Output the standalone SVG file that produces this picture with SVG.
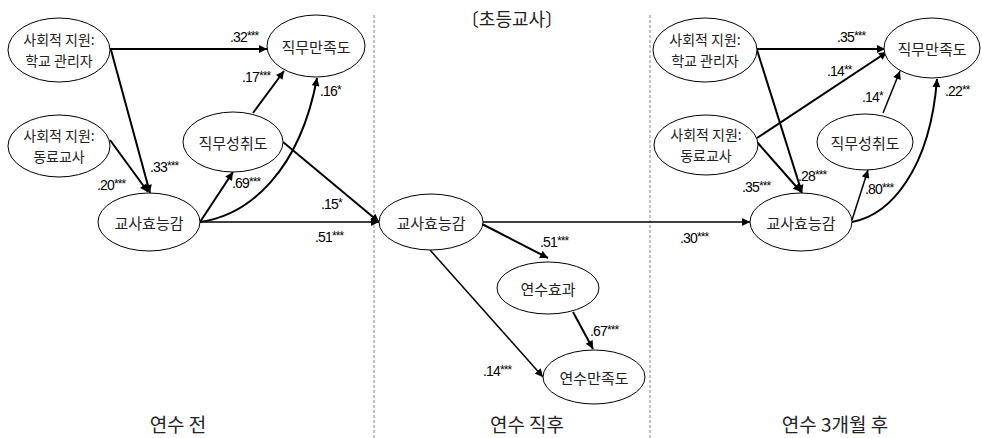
<svg xmlns="http://www.w3.org/2000/svg" width="982" height="438" viewBox="0 0 982 438">
<style>
.node ellipse{fill:#fff;stroke:#000;stroke-width:1}
.nt{font-family:"Noto Sans CJK KR","Noto Sans",sans-serif;font-size:15px;fill:#222;text-anchor:middle;dominant-baseline:central}
.nt2{font-size:14px}
.lab{font-family:"Liberation Sans",Arial,sans-serif;font-size:14px;fill:#000;letter-spacing:-0.8px}
.st{font-size:12px;letter-spacing:-1px}
.sec{font-family:"Noto Sans CJK KR","Noto Sans",sans-serif;font-size:19px;fill:#222;text-anchor:middle}
.c{fill:none;stroke:#000;marker-end:url(#ah)}
.thick{stroke-width:2}
.thin{stroke-width:1.5}
.dash{stroke:#888;stroke-width:1;stroke-dasharray:3,2}
</style>
<defs>
<marker id="ah" viewBox="0 0 10 10" refX="10" refY="5" markerWidth="9" markerHeight="8" markerUnits="userSpaceOnUse" orient="auto">
<path d="M0,0 L10,5 L0,10 z" fill="#000"/>
</marker>
</defs>
<rect width="982" height="438" fill="#fff"/>
<g id="dividers">
<line class="dash" x1="374" y1="15" x2="374" y2="438"/>
<line class="dash" x1="650" y1="15" x2="650" y2="438"/>
</g>
<text id="title" x="512" y="26" font-family="'Noto Sans CJK KR','Noto Sans',sans-serif" font-size="18" fill="#222" text-anchor="middle">〔초등교사〕</text>

<g id="connectors">
<path class="c thick" d="M110,49 L267,49"/>
<path class="c thick" d="M111,50 L150,193"/>
<path class="c thick" d="M110,140 L148,192"/>
<path class="c thick" d="M200,222 L233,172"/>
<path class="c thick" d="M253,113 L284,71"/>
<path class="c thick" d="M200,222 C250,215 300,170 317,78"/>
<path class="c thick" d="M283,142 L379,222"/>
<path class="c thin" d="M200,222 L379,222"/>
<path class="c thick" d="M482,224 L548,258"/>
<path class="c thick" d="M573,312 L593,349"/>
<path class="c thin" d="M430,250 L543,377"/>
<path class="c thin" d="M483,222 L750,222"/>
<path class="c thick" d="M757,49 L885,49"/>
<path class="c thick" d="M757,138 L887,52"/>
<path class="c thick" d="M757,50 L802,193"/>
<path class="c thick" d="M757,142 L801,192"/>
<path class="c thin" d="M852,220 L868,170"/>
<path class="c thin" d="M883,113 L900,71"/>
<path class="c thick" d="M852,222 C890,215 930,170 937,79"/>
</g>

<g id="labels">
<text class="lab" x="230" y="42">.32<tspan class="st" dy="-2">***</tspan></text>
<text class="lab" x="150" y="172">.33<tspan class="st" dy="-2">***</tspan></text>
<text class="lab" x="97" y="190">.20<tspan class="st" dy="-2">***</tspan></text>
<text class="lab" x="232" y="188">.69<tspan class="st" dy="-2">***</tspan></text>
<text class="lab" x="242" y="82">.17<tspan class="st" dy="-2">***</tspan></text>
<text class="lab" x="320" y="96">.16<tspan class="st" dy="-2">*</tspan></text>
<text class="lab" x="321" y="209">.15<tspan class="st" dy="-2">*</tspan></text>
<text class="lab" x="315" y="242">.51<tspan class="st" dy="-2">***</tspan></text>
<text class="lab" x="540" y="247">.51<tspan class="st" dy="-2">***</tspan></text>
<text class="lab" x="590" y="336">.67<tspan class="st" dy="-2">***</tspan></text>
<text class="lab" x="483" y="376">.14<tspan class="st" dy="-2">***</tspan></text>
<text class="lab" x="680" y="243">.30<tspan class="st" dy="-2">***</tspan></text>
<text class="lab" x="837" y="42">.35<tspan class="st" dy="-2">***</tspan></text>
<text class="lab" x="827" y="76">.14<tspan class="st" dy="-2">**</tspan></text>
<text class="lab" x="798" y="181">.28<tspan class="st" dy="-2">***</tspan></text>
<text class="lab" x="742" y="192">.35<tspan class="st" dy="-2">***</tspan></text>
<text class="lab" x="865" y="194">.80<tspan class="st" dy="-2">***</tspan></text>
<text class="lab" x="862" y="102">.14<tspan class="st" dy="-2">*</tspan></text>
<text class="lab" x="945" y="96">.22<tspan class="st" dy="-2">**</tspan></text>
</g>

<g id="pre-support-admin" class="node"><ellipse cx="59" cy="50" rx="51" ry="32"/><text class="nt nt2" x="59" y="39">사회적 지원:</text><text class="nt nt2" x="59" y="60">학교 관리자</text></g>
<g id="pre-support-peer" class="node"><ellipse cx="59" cy="146" rx="51" ry="31"/><text class="nt nt2" x="59" y="135">사회적 지원:</text><text class="nt nt2" x="59" y="156">동료교사</text></g>
<g id="pre-efficacy" class="node"><ellipse cx="149" cy="222" rx="51" ry="29"/><text class="nt" x="149" y="222">교사효능감</text></g>
<g id="pre-achievement" class="node"><ellipse cx="233" cy="142" rx="50" ry="30"/><text class="nt" x="233" y="142">직무성취도</text></g>
<g id="pre-satisfaction" class="node"><ellipse cx="316" cy="46" rx="49" ry="31"/><text class="nt" x="316" y="46">직무만족도</text></g>

<g id="post-efficacy" class="node"><ellipse cx="431" cy="222" rx="52" ry="28"/><text class="nt" x="431" y="222">교사효능감</text></g>
<g id="post-effect" class="node"><ellipse cx="548" cy="288" rx="51" ry="26"/><text class="nt" x="548" y="288">연수효과</text></g>
<g id="post-satisfaction" class="node"><ellipse cx="594" cy="377" rx="51" ry="27"/><text class="nt" x="594" y="377">연수만족도</text></g>

<g id="m3-support-admin" class="node"><ellipse cx="705" cy="50" rx="52" ry="32"/><text class="nt nt2" x="705" y="39">사회적 지원:</text><text class="nt nt2" x="705" y="60">학교 관리자</text></g>
<g id="m3-support-peer" class="node"><ellipse cx="706" cy="145" rx="52" ry="30"/><text class="nt nt2" x="706" y="134">사회적 지원:</text><text class="nt nt2" x="706" y="155">동료교사</text></g>
<g id="m3-efficacy" class="node"><ellipse cx="801" cy="222" rx="51" ry="29"/><text class="nt" x="801" y="222">교사효능감</text></g>
<g id="m3-achievement" class="node"><ellipse cx="865" cy="142" rx="48" ry="28"/><text class="nt" x="865" y="142">직무성취도</text></g>
<g id="m3-satisfaction" class="node"><ellipse cx="932" cy="48" rx="48" ry="30"/><text class="nt" x="932" y="48">직무만족도</text></g>

<g id="sections">
<text class="sec" x="178" y="432">연수 전</text>
<text class="sec" x="527" y="432">연수 직후</text>
<text class="sec" x="835" y="432">연수 3개월 후</text>
</g>
</svg>
